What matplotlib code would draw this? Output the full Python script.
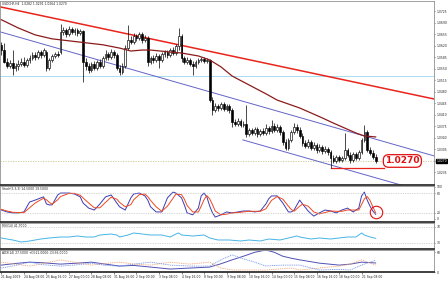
import matplotlib.pyplot as plt
import numpy as np
from matplotlib import font_manager

# USDCHF H4, 21 Aug 2009 - 22 Sep 2009
open_ = [1.0623, 1.0607, 1.0571, 1.0559, 1.0568, 1.0553, 1.0559, 1.0565, 1.0571, 1.0562,
         1.0577, 1.0583, 1.0592, 1.0586, 1.0601, 1.0592, 1.0601, 1.0553, 1.0577, 1.0589,
         1.0595, 1.0601, 1.0662, 1.0668, 1.0656, 1.0671, 1.0662, 1.0668, 1.0659, 1.0665,
         1.0571, 1.0559, 1.0547, 1.0565, 1.0553, 1.0571, 1.0559, 1.0583, 1.0595, 1.0586,
         1.0601, 1.0592, 1.0553, 1.0541, 1.0559, 1.0613, 1.0638, 1.0632, 1.0650, 1.0644,
         1.0656, 1.0638, 1.0644, 1.0571, 1.0583, 1.0577, 1.0589, 1.0577, 1.0595, 1.0601,
         1.0592, 1.0607, 1.0598, 1.0620, 1.0650, 1.0583, 1.0571, 1.0577, 1.0565, 1.0559,
         1.0571, 1.0577, 1.0580, 1.0574, 1.0577, 1.0455, 1.0425, 1.0437, 1.0431, 1.0443,
         1.0428, 1.0437, 1.0425, 1.0389, 1.0382, 1.0392, 1.0379, 1.0382, 1.0352, 1.0364,
         1.0355, 1.0367, 1.0352, 1.0361, 1.0355, 1.0370, 1.0361, 1.0376, 1.0364, 1.0373,
         1.0358, 1.0328, 1.0309, 1.0334, 1.0358, 1.0373, 1.0364, 1.0346, 1.0325, 1.0316,
         1.0328, 1.0309, 1.0319, 1.0303, 1.0313, 1.0300, 1.0306, 1.0297, 1.0279, 1.0270,
         1.0282, 1.0273, 1.0279, 1.0303, 1.0288, 1.0273, 1.0291, 1.0279, 1.0297, 1.0334,
         1.0358, 1.0303, 1.0294, 1.0282]
high = [1.0632, 1.0629, 1.0583, 1.0577, 1.0607, 1.0568, 1.0577, 1.0583, 1.0586, 1.0583,
        1.0592, 1.0601, 1.0601, 1.0607, 1.0607, 1.0613, 1.0607, 1.0583, 1.0595, 1.0601,
        1.0604, 1.0686, 1.0677, 1.0674, 1.0680, 1.0677, 1.0674, 1.0674, 1.0671, 1.0668,
        1.0583, 1.0568, 1.0571, 1.0574, 1.0577, 1.0580, 1.0589, 1.0607, 1.0601, 1.0610,
        1.0607, 1.0598, 1.0562, 1.0568, 1.0623, 1.0683, 1.0650, 1.0659, 1.0656, 1.0662,
        1.0662, 1.0653, 1.0650, 1.0589, 1.0592, 1.0598, 1.0595, 1.0601, 1.0607, 1.0607,
        1.0613, 1.0617, 1.0626, 1.0674, 1.0656, 1.0589, 1.0586, 1.0583, 1.0574, 1.0577,
        1.0583, 1.0586, 1.0586, 1.0583, 1.0580, 1.0465, 1.0446, 1.0443, 1.0449, 1.0449,
        1.0443, 1.0443, 1.0431, 1.0398, 1.0401, 1.0398, 1.0392, 1.0440, 1.0370, 1.0370,
        1.0373, 1.0373, 1.0367, 1.0370, 1.0382, 1.0376, 1.0395, 1.0385, 1.0382, 1.0379,
        1.0364, 1.0337, 1.0340, 1.0364, 1.0385, 1.0382, 1.0373, 1.0355, 1.0334, 1.0337,
        1.0334, 1.0328, 1.0325, 1.0322, 1.0319, 1.0316, 1.0313, 1.0303, 1.0288, 1.0288,
        1.0288, 1.0285, 1.0355, 1.0309, 1.0297, 1.0297, 1.0297, 1.0303, 1.0340, 1.0379,
        1.0364, 1.0313, 1.0303, 1.0291]
low = [1.0592, 1.0568, 1.0553, 1.0553, 1.0531, 1.0544, 1.0547, 1.0559, 1.0556, 1.0556,
       1.0568, 1.0577, 1.0577, 1.0580, 1.0583, 1.0586, 1.0544, 1.0547, 1.0571, 1.0583,
       1.0586, 1.0595, 1.0653, 1.0647, 1.0650, 1.0656, 1.0653, 1.0650, 1.0653, 1.0510,
       1.0547, 1.0537, 1.0541, 1.0547, 1.0547, 1.0553, 1.0553, 1.0577, 1.0577, 1.0580,
       1.0583, 1.0547, 1.0531, 1.0534, 1.0553, 1.0607, 1.0626, 1.0626, 1.0635, 1.0638,
       1.0629, 1.0632, 1.0559, 1.0565, 1.0568, 1.0571, 1.0553, 1.0571, 1.0586, 1.0583,
       1.0586, 1.0592, 1.0592, 1.0607, 1.0571, 1.0565, 1.0565, 1.0559, 1.0531, 1.0553,
       1.0565, 1.0571, 1.0568, 1.0568, 1.0449, 1.0410, 1.0419, 1.0422, 1.0425, 1.0422,
       1.0422, 1.0416, 1.0373, 1.0376, 1.0376, 1.0373, 1.0373, 1.0343, 1.0346, 1.0349,
       1.0349, 1.0343, 1.0346, 1.0349, 1.0349, 1.0352, 1.0355, 1.0358, 1.0358, 1.0349,
       1.0319, 1.0303, 1.0303, 1.0328, 1.0352, 1.0355, 1.0340, 1.0316, 1.0309, 1.0309,
       1.0303, 1.0303, 1.0294, 1.0297, 1.0291, 1.0294, 1.0288, 1.0249, 1.0264, 1.0264,
       1.0267, 1.0267, 1.0273, 1.0282, 1.0264, 1.0267, 1.0273, 1.0273, 1.0291, 1.0328,
       1.0297, 1.0288, 1.0276, 1.0264]
close = [1.0607, 1.0571, 1.0559, 1.0568, 1.0553, 1.0559, 1.0565, 1.0571, 1.0562, 1.0577,
         1.0583, 1.0592, 1.0586, 1.0601, 1.0592, 1.0607, 1.0553, 1.0577, 1.0589, 1.0595,
         1.0592, 1.0662, 1.0668, 1.0656, 1.0671, 1.0662, 1.0668, 1.0659, 1.0665, 1.0571,
         1.0559, 1.0547, 1.0565, 1.0553, 1.0571, 1.0559, 1.0583, 1.0595, 1.0586, 1.0601,
         1.0592, 1.0553, 1.0541, 1.0559, 1.0613, 1.0638, 1.0632, 1.0650, 1.0644, 1.0656,
         1.0638, 1.0644, 1.0571, 1.0583, 1.0577, 1.0589, 1.0577, 1.0595, 1.0601, 1.0592,
         1.0607, 1.0598, 1.0620, 1.0650, 1.0583, 1.0571, 1.0577, 1.0565, 1.0559, 1.0571,
         1.0577, 1.0580, 1.0574, 1.0577, 1.0455, 1.0425, 1.0437, 1.0431, 1.0443, 1.0428,
         1.0437, 1.0425, 1.0389, 1.0382, 1.0392, 1.0379, 1.0382, 1.0352, 1.0364, 1.0355,
         1.0367, 1.0352, 1.0361, 1.0355, 1.0370, 1.0361, 1.0376, 1.0364, 1.0373, 1.0358,
         1.0328, 1.0309, 1.0334, 1.0358, 1.0373, 1.0364, 1.0346, 1.0325, 1.0316, 1.0328,
         1.0309, 1.0319, 1.0303, 1.0313, 1.0300, 1.0306, 1.0297, 1.0279, 1.0270, 1.0282,
         1.0273, 1.0279, 1.0303, 1.0288, 1.0273, 1.0291, 1.0279, 1.0297, 1.0334, 1.0358,
         1.0303, 1.0294, 1.0282, 1.0270]

# moving average, sampled at some bars
ma_idx = [0, 6, 12, 18, 24, 30, 36, 42, 46, 50, 53, 60, 64, 70, 74, 78, 82, 86, 90, 94,
          98, 102, 106, 110, 114, 118, 122, 126, 129, 133]
ma_val = [1.0699, 1.0674, 1.0653, 1.0641, 1.0635, 1.0629, 1.0623, 1.0613, 1.0604, 1.0607,
          1.0607, 1.0601, 1.0598, 1.0589, 1.0577, 1.0556, 1.0528, 1.0510, 1.0492, 1.0474,
          1.0455, 1.0443, 1.0431, 1.0416, 1.0401, 1.0385, 1.0370, 1.0355, 1.0346, 1.0343]

# hand drawn objects: (bar, price) anchors
red_trend = ([-0.35, 153.9], [1.0738, 1.0458])
chan_upper = ([-0.35, 153.9], [1.0662, 1.0285])
chan_lower = ([85.8, 153.9], [1.0334, 1.0168])
support = ([117, 136], [1.0249, 1.0249])
hline_level = 1.0528

# Stoch(5,3,3)
st_idx = [0, 2, 4, 6, 8, 10, 12, 14, 15, 16, 17, 18, 20, 21, 24, 26, 28, 29, 31, 33,
          35, 37, 39, 41, 42, 44, 46, 47, 49, 51, 52, 53, 55, 57, 59, 61, 62, 64, 65, 66,
          68, 70, 71, 72, 73, 74, 75, 76, 78, 80, 82, 84, 86, 88, 90, 92, 94, 95, 96, 98,
          100, 102, 103, 104, 106, 107, 109, 111, 113, 115, 117, 119, 121, 123, 125, 127, 128, 129, 130, 131,
          132, 133]
st_main = [28, 22, 19, 19, 22, 53, 59, 66, 69, 47, 44, 44, 75, 81, 81, 78, 69, 50, 34, 28,
           47, 69, 75, 50, 38, 28, 66, 78, 81, 72, 59, 38, 22, 22, 66, 84, 81, 66, 44, 19,
           13, 34, 72, 81, 69, 41, 19, 6, 13, 22, 19, 22, 25, 25, 22, 25, 47, 63, 72, 72,
           50, 22, 22, 28, 59, 47, 25, 9, 19, 28, 25, 19, 28, 34, 22, 34, 72, 84, 59, 40,
           25, 14.5]
st_sig = [30, 25, 21, 20, 20, 35, 50, 60, 65, 60, 52, 46, 60, 70, 80, 80, 74, 66, 50, 35,
          35, 52, 68, 62, 52, 38, 45, 60, 76, 78, 70, 58, 38, 24, 40, 65, 78, 76, 62, 42,
          22, 22, 40, 60, 73, 63, 45, 25, 13, 15, 19, 20, 22, 24, 24, 24, 32, 45, 58, 70,
          62, 40, 30, 24, 40, 46, 40, 22, 16, 20, 25, 24, 24, 28, 28, 28, 45, 63, 70, 58,
          38, 19.5]

# RSI(14)
rsi_idx = [0, 4, 7, 10, 14, 17, 21, 24, 27, 30, 33, 35, 39, 41, 42, 45, 47, 50, 53, 57,
           60, 62, 63, 64, 68, 72, 74, 77, 81, 85, 88, 92, 95, 99, 102, 105, 106, 110, 113, 117,
           120, 123, 126, 128, 129, 131, 133]
rsi_val = [42.5, 37.5, 32.5, 35, 40, 42.5, 45, 45, 47.5, 45, 45, 50, 52.5, 50, 45, 50, 55, 52.5, 50, 50,
           45, 52.5, 55, 50, 47.5, 50, 42.5, 37.5, 37.5, 35, 37.5, 35, 40, 37.5, 42.5, 47.5, 45, 40, 42.5, 40,
           42.5, 45, 45, 55, 50, 45, 41.7]

# ADX(14)
adx_idx = [0, 5, 10, 15, 21, 27, 32, 37, 42, 47, 53, 60, 67, 74, 78, 82, 86, 90, 94, 97,
           100, 103, 106, 113, 120, 124, 128, 133]
adx_val = [21, 26, 30, 28, 24, 27, 30, 24, 18, 20, 15, 9, 12, 15, 25, 37, 48, 60, 67, 60,
           48, 42, 37, 27, 21, 24, 30, 27.5]
plus_di = [30, 24, 18, 26, 37, 28, 21, 26, 30, 24, 21, 30, 24, 30, 12, 6, 6, 6, 6, 8,
           10, 12, 6, 12, 18, 24, 37, 21]
minus_di = [12, 20, 30, 22, 18, 22, 27, 20, 18, 24, 30, 21, 18, 18, 37, 52, 40, 30, 18, 20,
            21, 21, 21, 6, 8, 6, 21, 36]

xlab_idx = list(range(0, 129, 8))
xlab = ["21 Aug 2009", "24 Aug 08:00", "25 Aug 16:00", "27 Aug 00:00", "28 Aug 08:00",
        "31 Aug 16:00", "2 Sep 00:00", "3 Sep 08:00", "4 Sep 16:00", "8 Sep 00:00",
        "9 Sep 08:00", "10 Sep 16:00", "14 Sep 00:00", "15 Sep 08:00", "16 Sep 16:00",
        "18 Sep 00:00", "21 Sep 08:00"]
price_ticks = [1.0235 + 0.0035 * k for k in range(15)]

# small narrow font for the axis texts
names = {f.name for f in font_manager.fontManager.ttflist}
if 'Liberation Sans Narrow' in names:
    SMALL = dict(family='Liberation Sans Narrow', size=2.6)
else:
    SMALL = dict(family='DejaVu Sans', size=2.2)
FS = SMALL['size']

W, H = 448, 281
fig = plt.figure(figsize=(W / 100, H / 100), dpi=100)
fig.patch.set_facecolor('white')


def panel(top, bottom):
    a = fig.add_axes([0.001, 1 - bottom / H, 434 / W, (bottom - top) / H])
    a.set_xlim(-0.35, 153.9)
    a.yaxis.tick_right()
    a.tick_params(axis='y', length=1.0, width=0.4, pad=0.4, colors='#202020')
    a.tick_params(axis='x', bottom=False, labelbottom=False)
    for s in a.spines.values():
        s.set_color('#909090')
        s.set_linewidth(0.6)
    a.spines['bottom'].set_color('#303030')
    a.spines['bottom'].set_linewidth(1.3)
    return a


def small_labels(a, which='y'):
    labels = a.get_yticklabels() if which == 'y' else a.get_xticklabels()
    for t in labels:
        t.set_fontfamily(SMALL['family'])
        t.set_fontsize(FS)


ax = panel(1, 185)
ax_st = panel(186, 222)
ax_rsi = panel(223, 249)
ax_adx = panel(250, 272)

# candles
x = np.arange(len(close))
o, h, l, c = map(np.array, (open_, high, low, close))
up = c >= o
lo_b = np.minimum(o, c)
hgt = np.maximum(np.abs(c - o), 0.00006)
ax.vlines(x, l, h, color='black', lw=0.5, zorder=3)
ax.bar(x[up], hgt[up], 0.62, bottom=lo_b[up], color='white', edgecolor='black', lw=0.45, zorder=4)
ax.bar(x[~up], hgt[~up], 0.62, bottom=lo_b[~up], color='black', edgecolor='black', lw=0.45, zorder=4)

ax.plot(ma_idx, ma_val, color='#8b1c1c', lw=0.9, zorder=5)
ax.plot(*red_trend, color='#e8241c', lw=1.1, zorder=2)
ax.plot(*chan_upper, color='#6464c8', lw=0.7, zorder=2)
ax.plot(*chan_lower, color='#6464c8', lw=0.7, zorder=2)
ax.plot(*support, color='#e8241c', lw=0.9, zorder=2)
ax.axhline(hline_level, color='#a8dcf0', lw=0.7, zorder=1)
ax.axhline(close[-1], color='#c8c890', lw=0.6, ls=(0, (1.5, 1.5)), zorder=1)

ax.set_ylim(1.0197, 1.0756)
ax.set_yticks(price_ticks)
# the tick under the bid box is hidden by it
ax.set_yticklabels(["" if abs(p - close[-1]) < 1e-6 else f"{p:.4f}" for p in price_ticks])
small_labels(ax)
ax.text(0.004, 0.997, f"USDCHF,H4  {open_[-1]:.4f} {high[-1]:.4f} {low[-1]:.4f} {close[-1]:.4f}",
        transform=ax.transAxes, va='top', ha='left', color='#202020', **SMALL)
ax.text(1.004, close[-1], f"{close[-1]:.4f}", transform=ax.get_yaxis_transform(),
        color='white', va='center', ha='left', zorder=10,
        bbox=dict(boxstyle='square,pad=0.15', fc='black', ec='black'), **SMALL)
ax.text(len(close) + 8.5, close[-1], f"{close[-1]:.4f}", fontsize=6.5, fontweight='bold',
        color='#e01010', ha='center', va='center', zorder=10,
        bbox=dict(boxstyle='round,pad=0.2,rounding_size=0.6', fc='white', ec='#e01010', lw=0.9))

# stochastic
ax_st.plot(st_idx, st_main, color='#3c3cb4', lw=0.7)
ax_st.plot(st_idx, st_sig, color='#f04820', lw=0.7)
for lv in (80, 20):
    ax_st.axhline(lv, color='#b0b0b0', lw=0.5, ls=(0, (1, 1.5)))
ax_st.set_ylim(-9.4, 103)
ax_st.set_yticks([100, 80, 20, 0])
small_labels(ax_st)
ax_st.plot([st_idx[-1]], [st_main[-1] + 6], marker='o', ms=9, mfc='none', mec='#e01010', mew=0.8)
ax_st.text(0.004, 0.96, f"Stoch(5,3,3) {st_main[-1]:.4f} {st_sig[-1]:.4f}", transform=ax_st.transAxes,
           va='top', ha='left', color='#202020', **SMALL)

# RSI
ax_rsi.plot(rsi_idx, rsi_val, color='#46b4e6', lw=0.7)
for lv in (70, 30):
    ax_rsi.axhline(lv, color='#b0b0b0', lw=0.5, ls=(0, (1, 1.5)))
ax_rsi.set_ylim(15, 80)
ax_rsi.set_yticks([70, 30])
small_labels(ax_rsi)
ax_rsi.text(0.004, 0.95, f"RSI(14) {rsi_val[-1]:.4f}", transform=ax_rsi.transAxes,
            va='top', ha='left', color='#202020', **SMALL)

# ADX
ax_adx.plot(adx_idx, adx_val, color='#5050b4', lw=0.7)
ax_adx.plot(adx_idx, plus_di, color='#f0a070', lw=0.6, ls=(0, (1.2, 1)))
ax_adx.plot(adx_idx, minus_di, color='#6a8ee6', lw=0.6, ls=(0, (1.2, 1)))
ax_adx.set_ylim(0, 67)
ax_adx.set_yticks([0, 60])
ax_adx.text(0.004, 0.95, f"ADX(14) {adx_val[-1]:.4f} +DI:{plus_di[-1]:.4f} -DI:{minus_di[-1]:.4f}",
            transform=ax_adx.transAxes, va='top', ha='left', color='#202020', **SMALL)
ax_adx.tick_params(axis='x', bottom=True, labelbottom=True, length=1.5,
                   width=0.4, pad=0.8, colors='#202020')
ax_adx.set_xticks(xlab_idx)
ax_adx.set_xticklabels(xlab, ha='left')
small_labels(ax_adx)
small_labels(ax_adx, 'x')

fig.savefig('out.png', dpi=100, facecolor='white')
